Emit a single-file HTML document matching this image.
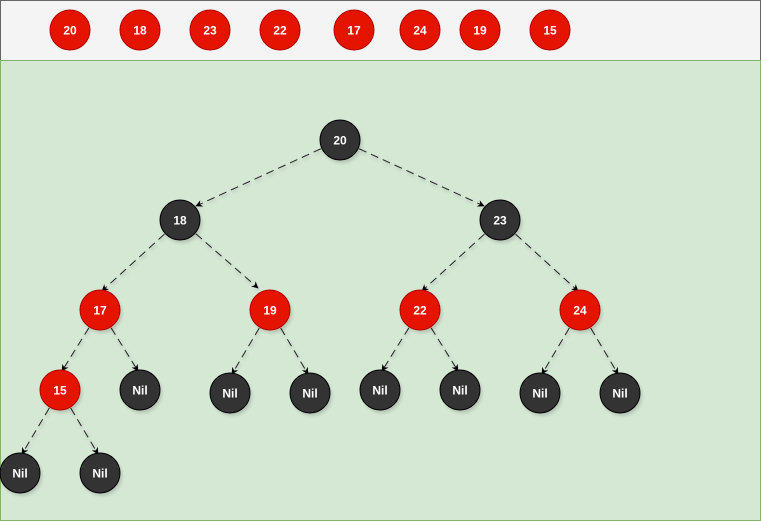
<!DOCTYPE html>
<html><head><meta charset="utf-8"><style>
body{margin:0;width:761px;height:521px;overflow:hidden;background:#fff;font-family:"Liberation Sans",Arial,sans-serif;}
</style></head><body>
<svg id="s" width="761" height="521" xmlns="http://www.w3.org/2000/svg" style="position:absolute;left:0;top:0">
<defs>
<marker id="a" viewBox="0 0 10 10" refX="9" refY="5" markerWidth="7" markerHeight="7" orient="auto" markerUnits="userSpaceOnUse">
<path d="M0,0 L10,5 L0,10 L3,5 z" fill="#000"/></marker>
<filter id="sh" x="-20%" y="-20%" width="160%" height="160%"><feGaussianBlur stdDeviation="1.5"/></filter>
</defs>
<rect x="0.5" y="0.5" width="760" height="60" fill="#f4f4f4" stroke="#666"/>
<rect x="0.5" y="60.5" width="760" height="460" fill="#d5e8d4" stroke="#82b366"/>
<g id="e"></g><g id="n"></g>
</svg>
<script>
var NS="http://www.w3.org/2000/svg";
function el(t,a,p,txt){var e=document.createElementNS(NS,t);for(var k in a)e.setAttribute(k,a[k]);if(txt)e.textContent=txt;p.appendChild(e);return e;}
var n=document.getElementById('n'),eg=document.getElementById('e');
var top_=[[70,'20'],[140,'18'],[210,'23'],[280,'22'],[354,'17'],[420,'24'],[480,'19'],[550,'15']];
top_.forEach(function(t){circ(t[0],30,t[1],true);});
var N={a:[340,140,'20',0],b:[180,220,'18',0],c:[500,220,'23',0],d:[100,310,'17',1],e:[270,310,'19',1],f:[420,310,'22',1],g:[580,310,'24',1],h:[60,390,'15',1],
i:[140,390,'Nil',0],j:[230,393,'Nil',0],k:[310,393,'Nil',0],l:[380,390,'Nil',0],m:[460,390,'Nil',0],o:[540,393,'Nil',0],p:[620,393,'Nil',0],q:[20,473,'Nil',0],r:[100,473,'Nil',0]};
var E=[['a','b',196,206],['a','c',484,206],['b','d'],['b','e',258,288],['c','f'],['c','g'],['d','h'],['d','i'],['e','j'],['e','k'],['f','l'],['f','m'],['g','o'],['g','p'],['h','q'],['h','r']];
E.forEach(function(x){var A=N[x[0]],B=N[x[1]];var ex,ey;
 if(x.length>2){ex=x[2];ey=x[3];}else{var s=A[0]>B[0]?1:-1;ex=B[0]+s*2;ey=B[1]-19;}
 var dx=ex-A[0],dy=ey-A[1],L=Math.sqrt(dx*dx+dy*dy);var sx=A[0]+dx/L*21,sy=A[1]+dy/L*21;
 el('line',{x1:sx+1,y1:sy+2,x2:ex+1,y2:ey+2,stroke:'#000','stroke-opacity':0.12,'stroke-width':2,'stroke-dasharray':'8 5',filter:'url(#sh)'},eg);
 el('line',{x1:sx,y1:sy,x2:ex,y2:ey,stroke:'#222','stroke-width':1,'stroke-dasharray':'8 5','marker-end':'url(#a)'},eg);});
for(var k in N){var v=N[k];circ(v[0],v[1],v[2],v[3]);}
function circ(x,y,t,red){
 if(y>60) el('circle',{cx:x+2,cy:y+3,r:20,fill:'#000',opacity:0.15,filter:'url(#sh)'},n);
 el('circle',{cx:x,cy:y,r:20,fill:red?'#e51400':'#333333',stroke:red?'#b20000':'#000','stroke-width':1},n);
 el('text',{x:x,y:y+4.5,'text-anchor':'middle','font-size':12,'font-weight':'bold',fill:'#fff','font-family':'Liberation Sans, Arial, sans-serif'},n,t);
}
</script>
</body></html>
